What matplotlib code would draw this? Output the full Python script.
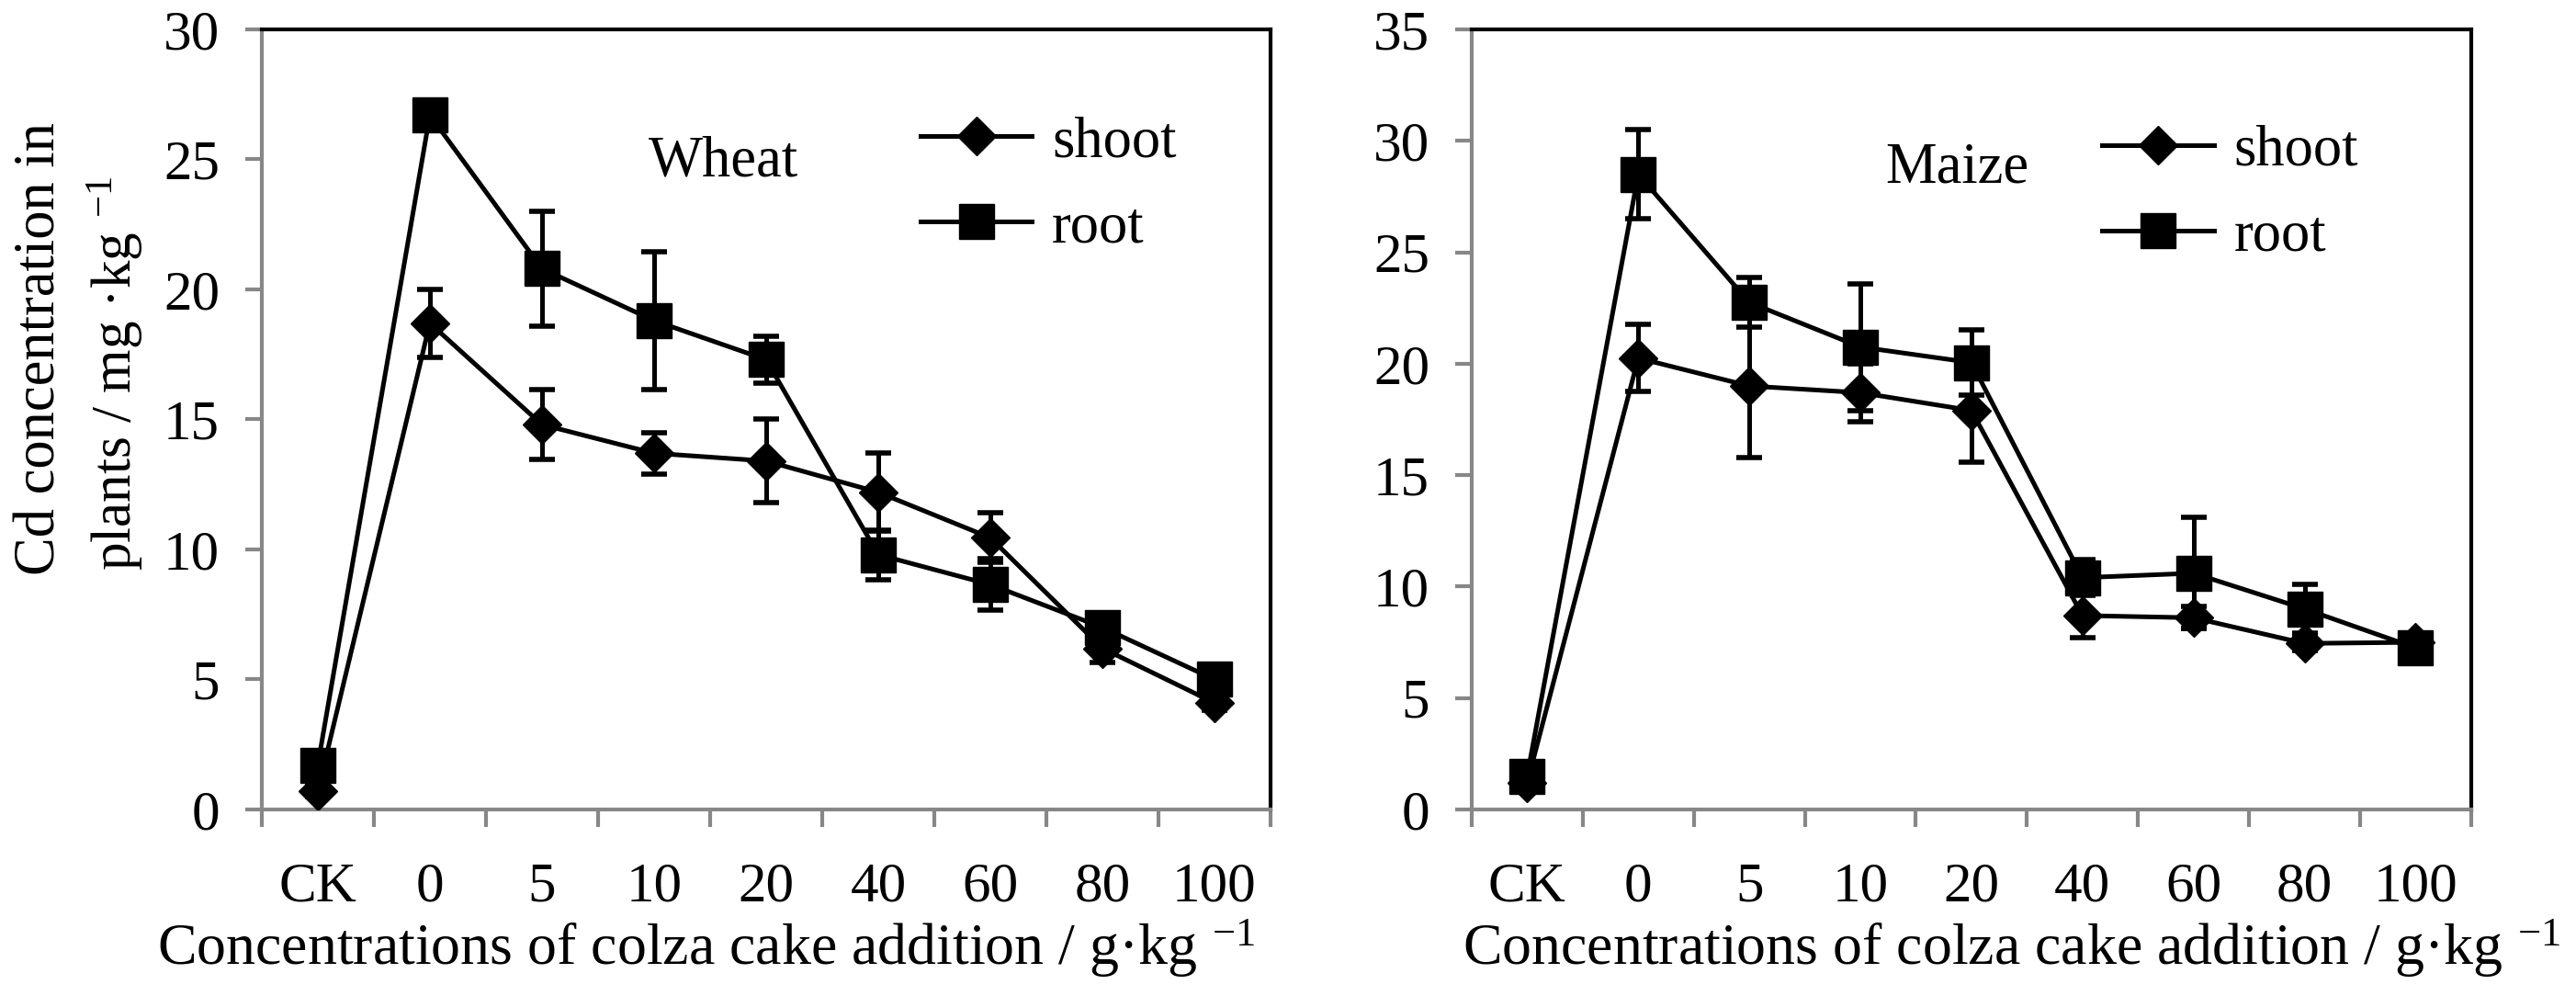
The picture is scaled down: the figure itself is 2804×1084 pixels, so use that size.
import matplotlib
matplotlib.use("Agg")
import matplotlib.pyplot as plt
from matplotlib.lines import Line2D
import numpy as np

plt.rcParams["font.family"] = ["Liberation Serif", "DejaVu Serif"]
plt.rcParams["mathtext.fontset"] = "custom"
plt.rcParams["mathtext.rm"] = "Liberation Serif"
plt.rcParams["mathtext.it"] = "Liberation Serif:italic"

categories = ["CK", "0", "5", "10", "20", "40", "60", "80", "100"]

wheat_shoot = [0.7, 18.7, 14.8, 13.7, 13.4, 12.2, 10.45, 6.2, 4.1]
wheat_shoot_err = [0.2, 1.3, 1.35, 0.8, 1.6, 1.5, 0.95, 0.55, 0.3]
wheat_root = [1.7, 26.7, 20.8, 18.8, 17.3, 9.8, 8.65, 7.0, 5.0]
wheat_root_err = [0.2, 0.3, 2.2, 2.65, 0.9, 0.95, 1.0, 0.3, 0.3]

maize_shoot = [1.2, 20.25, 19.0, 18.7, 17.9, 8.7, 8.6, 7.45, 7.5]
maize_shoot_err = [0.3, 1.5, 3.2, 1.3, 2.3, 1.0, 0.5, 0.3, 0.4]
maize_root = [1.5, 28.5, 22.75, 20.75, 20.05, 10.4, 10.6, 9.0, 7.25]
maize_root_err = [0.3, 2.0, 1.1, 2.85, 1.45, 0.8, 2.5, 1.1, 0.5]

GRAY = "#878787"
FS = 45

fig = plt.figure(figsize=(28.04, 10.84), dpi=100)
ax1 = fig.add_axes([0.1016, 0.1873, 0.3916, 0.7832])
ax2 = fig.add_axes([0.5713, 0.1873, 0.3880, 0.7832])


def draw(ax, shoot, shoot_err, root, root_err, ymax, name, name_xy, leg_anchor, xlab_x):
    x = np.arange(len(categories))
    ax.errorbar(x, shoot, yerr=shoot_err, color="black", lw=3.6, marker="D",
                markersize=21, capsize=10, elinewidth=3.6, capthick=4,
                zorder=3)
    ax.errorbar(x, root, yerr=root_err, color="black", lw=3.6, marker="s",
                markersize=28, capsize=10, elinewidth=3.6, capthick=4,
                zorder=4)
    ax.set_xlim(-0.5, len(categories) - 0.5)
    ax.set_ylim(0, ymax)
    ax.set_yticks(np.arange(0, ymax + 1, 5))
    ax.set_xticks(x)
    ax.set_xticklabels(categories)
    ax.set_xticks(np.arange(-0.5, len(categories), 1), minor=True)
    ax.tick_params(axis="x", which="major", length=0, pad=41, labelsize=44)
    ax.tick_params(axis="x", which="minor", length=14, width=3, color=GRAY)
    ax.tick_params(axis="y", length=13, width=3, color=GRAY, labelsize=44, pad=20)
    for side in ["left", "bottom"]:
        ax.spines[side].set_color(GRAY)
        ax.spines[side].set_linewidth(3)
    for side in ["top", "right"]:
        ax.spines[side].set_color("black")
        ax.spines[side].set_linewidth(3)
    ax.text(name_xy[0], name_xy[1], name, transform=ax.transAxes, fontsize=FS,
            ha="center", va="center")
    handles = [
        Line2D([], [], color="black", lw=3.6, marker="D", markersize=21),
        Line2D([], [], color="black", lw=3.6, marker="s", markersize=28),
    ]
    ax.legend(handles, ["shoot", "root"], loc="upper left", bbox_to_anchor=leg_anchor,
              frameon=False, fontsize=FS, handlelength=1.94, handletextpad=0.35,
              labelspacing=0.56, borderaxespad=0, borderpad=0)
    ax.text(xlab_x, -0.199, "Concentrations of colza cake addition / g·kg $^{-1}$",
            transform=ax.transAxes, fontsize=46, ha="center", va="baseline")


draw(ax1, wheat_shoot, wheat_shoot_err, wheat_root, wheat_root_err, 30,
     "Wheat", (0.458, 0.83), (0.653, 0.889), 0.44)
draw(ax2, maize_shoot, maize_shoot_err, maize_root, maize_root_err, 35,
     "Maize", (0.486, 0.822), (0.631, 0.878), 0.54)

fig.text(0.016, 0.65, "Cd concentration in", rotation=90, fontsize=45,
         ha="center", va="center")
fig.text(0.045, 0.625, "plants / mg ·kg $^{-1}$", rotation=90, fontsize=44,
         ha="center", va="center")

fig.savefig("out.png", dpi=100)
